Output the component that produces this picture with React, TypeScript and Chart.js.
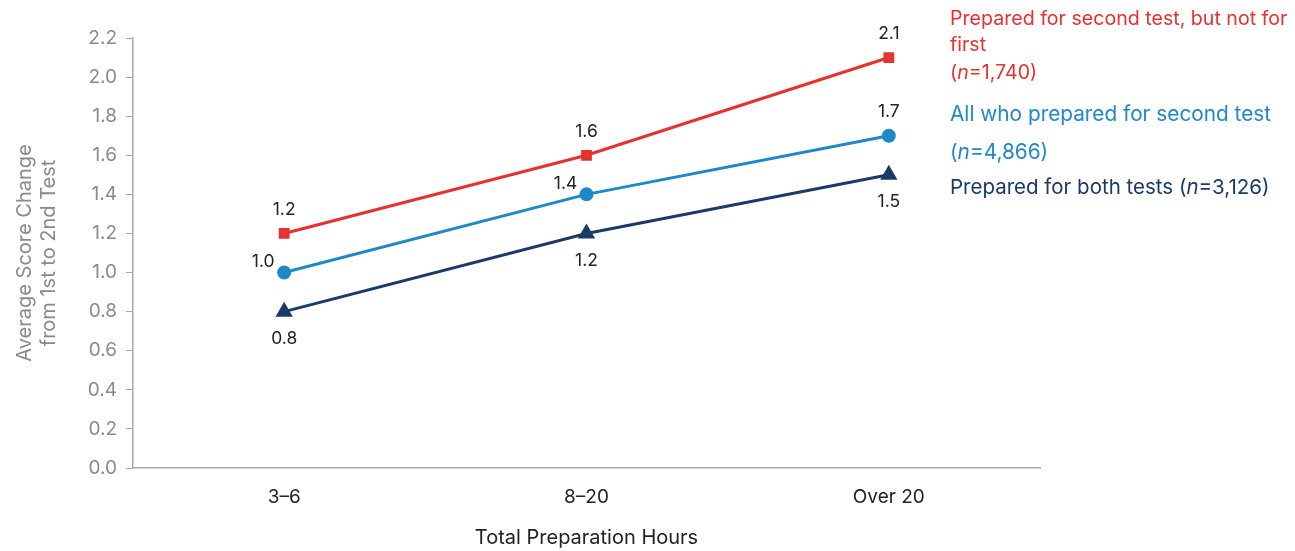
import { useEffect, useRef } from "react";
import { Chart, registerables } from "chart.js";

Chart.register(...registerables);

const categories = ["3–6", "8–20", "Over 20"];
const notFirstValues = [1.2, 1.6, 2.1];
const allSecondValues = [1.0, 1.4, 1.7];
const bothValues = [0.8, 1.2, 1.5];
const yMin = 0;
const yMax = 2.2;
const yStep = 0.2;

const seriesNames = [
  "Prepared for second test, but not for first",
  "All who prepared for second test",
  "Prepared for both tests",
];
const seriesCounts = ["1,740", "4,866", "3,126"];

const RED = "#e8312f";
const BLUE = "#1f88c9";
const NAVY = "#1b3a68";
const FONT = "Inter, 'Liberation Sans', Arial, sans-serif";

type Part = { t: string; italic?: boolean };

function drawParts(ctx: CanvasRenderingContext2D, parts: Part[], x: number, y: number, size: number) {
  let cx = x;
  for (const p of parts) {
    ctx.font = `${p.italic ? "italic " : ""}${size}px ${FONT}`;
    ctx.fillText(p.t, cx, y);
    cx += ctx.measureText(p.t).width;
  }
}

const labelPlugin = {
  id: "pointLabels",
  afterDatasetsDraw(chart: any) {
    const ctx: CanvasRenderingContext2D = chart.ctx;
    ctx.save();
    ctx.fillStyle = "#222";
    ctx.font = `17.5px ${FONT}`;
    ctx.textBaseline = "middle";
    ctx.textAlign = "center";
    chart.data.datasets.forEach((ds: any, di: number) => {
      const meta = chart.getDatasetMeta(di);
      meta.data.forEach((pt: any, i: number) => {
        const v = ds.data[i] as number;
        const txt = v.toFixed(1);
        const place = ds.labelPlace[i];
        let dx = 0;
        let dy = -24;
        if (place === "below") dy = 27;
        if (place === "aboveLeft") {
          dx = -21;
          dy = -11;
        }
        ctx.fillText(txt, pt.x + dx, pt.y + dy);
      });
    });
    ctx.restore();
  },
};

const legendPlugin = {
  id: "sideLegend",
  afterDraw(chart: any) {
    const ctx: CanvasRenderingContext2D = chart.ctx;
    ctx.save();
    ctx.textBaseline = "middle";
    ctx.textAlign = "left";
    const x = 950;
    ctx.fillStyle = RED;
    drawParts(ctx, [{ t: "Prepared for second test, but not for" }], x, 19, 19.6);
    drawParts(ctx, [{ t: "first" }], x, 45, 19.6);
    drawParts(ctx, [{ t: "(" }, { t: "n", italic: true }, { t: "=" + seriesCounts[0] + ")" }], x, 73, 19.6);
    ctx.fillStyle = BLUE;
    drawParts(ctx, [{ t: seriesNames[1] }], x, 115, 20.8);
    drawParts(ctx, [{ t: "(" }, { t: "n", italic: true }, { t: "=" + seriesCounts[1] + ")" }], x, 153, 20.8);
    ctx.fillStyle = NAVY;
    drawParts(
      ctx,
      [{ t: seriesNames[2] + " (" }, { t: "n", italic: true }, { t: "=" + seriesCounts[2] + ")" }],
      x,
      188,
      20.5
    );
    ctx.restore();
  },
};

export default function App() {
  const ref = useRef<HTMLCanvasElement | null>(null);
  useEffect(() => {
    if (!ref.current) return;
    const chart = new Chart(ref.current, {
      type: "line",
      data: {
        labels: categories,
        datasets: [
          {
            label: seriesNames[0],
            data: notFirstValues,
            borderColor: RED,
            backgroundColor: "#e03a2e",
            pointStyle: "rect",
            pointRadius: 5.5,
            borderWidth: 3,
            labelPlace: ["above", "above", "above"],
          } as any,
          {
            label: seriesNames[1],
            data: allSecondValues,
            borderColor: BLUE,
            backgroundColor: BLUE,
            pointStyle: "circle",
            pointRadius: 5.5,
            borderWidth: 3,
            labelPlace: ["aboveLeft", "aboveLeft", "above"],
          } as any,
          {
            label: seriesNames[2],
            data: bothValues,
            borderColor: NAVY,
            backgroundColor: NAVY,
            pointStyle: "triangle",
            pointRadius: 7,
            borderWidth: 3,
            labelPlace: ["below", "below", "below"],
          } as any,
        ],
      },
      options: {
        animation: false,
        responsive: false,
        layout: { padding: { left: 0, right: 255, top: 38, bottom: 0 } },
        plugins: { legend: { display: false }, tooltip: { enabled: false } },
        elements: { point: { borderWidth: 0 }, line: { tension: 0 } },
        scales: {
          x: {
            offset: true,
            grid: { display: true, drawOnChartArea: false, drawTicks: false },
            border: { display: true, color: "#a8a8a8", width: 1.5 },
            ticks: { color: "#222", font: { size: 19, family: FONT }, padding: 18 },
            title: {
              display: true,
              text: "Total Preparation Hours",
              color: "#222",
              font: { size: 20, family: FONT },
              padding: { top: 0, bottom: 1 },
            },
            afterFit(scale: any) {
              scale.height = 83;
            },
          },
          y: {
            min: yMin,
            max: yMax,
            grid: { display: true, drawOnChartArea: false, drawTicks: true, tickLength: 7, color: "#a8a8a8", lineWidth: 1 },
            border: { display: true, color: "#a8a8a8", width: 1.5 },
            ticks: {
              stepSize: yStep,
              color: "#8a8a8a",
              font: { size: 19, family: FONT },
              padding: 9,
              callback: (v: any) => Number(v).toFixed(1),
            },
            title: {
              display: true,
              text: ["Average Score Change", "from 1st to 2nd Test"],
              color: "#8a8a8a",
              font: { size: 20, family: FONT },
              padding: { top: 13, bottom: 0 },
            },
            afterFit(scale: any) {
              scale.width = 133;
            },
          },
        },
      },
      plugins: [labelPlugin, legendPlugin],
    });
    return () => chart.destroy();
  }, []);
  return (
    <div style={{ position: "absolute", left: 0, top: 0, width: 1295, height: 551 }}>
      <canvas ref={ref} width={1295} height={551} />
    </div>
  );
}
